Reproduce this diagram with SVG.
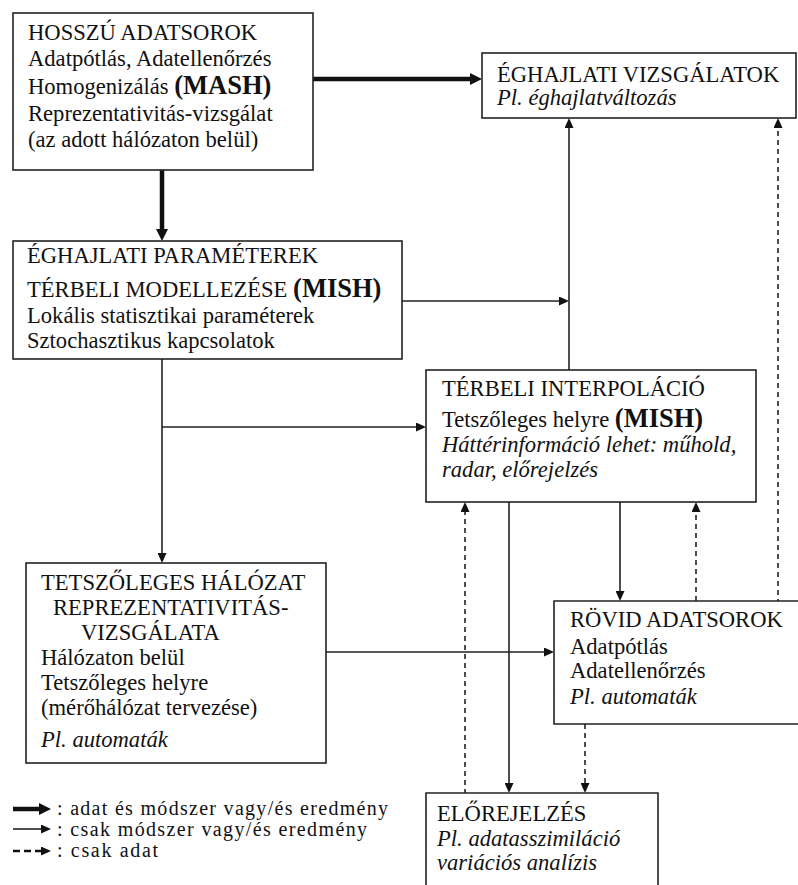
<svg xmlns="http://www.w3.org/2000/svg" width="798" height="885" viewBox="0 0 798 885" font-family="'Liberation Serif', 'Times New Roman', 'DejaVu Serif', serif">
<style>
.box{fill:#fff;stroke:#222;stroke-width:1.6}
text{font-family:'Liberation Serif','Times New Roman','DejaVu Serif',serif;font-size:22.6px;fill:#111}
.b{font-weight:bold;font-size:26.5px}
.i{font-style:italic}
.lg{font-size:20px}
.thick{fill:none;stroke:#111;stroke-width:4.5}
.thin{fill:none;stroke:#222;stroke-width:1.6}
.dash{fill:none;stroke:#222;stroke-width:1.6;stroke-dasharray:5 4}
.ldash{fill:none;stroke:#111;stroke-width:2.6;stroke-dasharray:7 4}
</style>
<defs>
<marker id="ah" viewBox="0 0 10 9" refX="0" refY="4.5" markerWidth="10" markerHeight="9" markerUnits="userSpaceOnUse" orient="auto"><path d="M0,0 L10,4.5 L0,9 z" fill="#111"/></marker>
<marker id="ahT" viewBox="0 0 12 12" refX="0" refY="6" markerWidth="12" markerHeight="12" markerUnits="userSpaceOnUse" orient="auto"><path d="M0,0 L12,6 L0,12 z" fill="#111"/></marker>
</defs>
<rect width="798" height="885" fill="#fff"/>

<g id="connectors">
<path class="thick" d="M313,79 H470" marker-end="url(#ahT)"/>
<path class="thick" d="M162,170 V229" marker-end="url(#ahT)"/>
<path class="thin" d="M402,301 H559" marker-end="url(#ah)"/>
<path class="thin" d="M569,370 V128" marker-end="url(#ah)"/>
<path class="dash" d="M778,613 V128" marker-end="url(#ah)"/>
<path class="thin" d="M162,359 V553" marker-end="url(#ah)"/>
<path class="thin" d="M162,427 H416" marker-end="url(#ah)"/>
<path class="thin" d="M326,652 H544" marker-end="url(#ah)"/>
<path class="thin" d="M620,502 V591" marker-end="url(#ah)"/>
<path class="dash" d="M696,601 V512" marker-end="url(#ah)"/>
<path class="thin" d="M509,502 V783" marker-end="url(#ah)"/>
<path class="dash" d="M465,803 V512" marker-end="url(#ah)"/>
<path class="dash" d="M585,724 V783" marker-end="url(#ah)"/>
</g>

<g id="hosszu">
<rect class="box" x="13" y="13" width="300" height="157"/>
<text x="28" y="40">HOSSZÚ ADATSOROK</text>
<text x="28" y="66">Adatpótlás, Adatellenőrzés</text>
<text x="28" y="94">Homogenizálás <tspan class="b">(MASH)</tspan></text>
<text x="28" y="121">Reprezentativitás-vizsgálat</text>
<text x="28" y="147">(az adott hálózaton belül)</text>
</g>

<g id="eghajlati-vizsgalatok">
<rect class="box" x="482" y="53" width="314" height="65"/>
<text x="497" y="82">ÉGHAJLATI VIZSGÁLATOK</text>
<text x="497" y="105" class="i">Pl. éghajlatváltozás</text>
</g>

<g id="parameterek">
<rect class="box" x="13" y="241" width="389" height="118"/>
<text x="27" y="263">ÉGHAJLATI PARAMÉTEREK</text>
<text x="27" y="297">TÉRBELI MODELLEZÉSE <tspan class="b">(MISH)</tspan></text>
<text x="27" y="323">Lokális statisztikai paraméterek</text>
<text x="27" y="348">Sztochasztikus kapcsolatok</text>
</g>

<g id="interpolacio">
<rect class="box" x="426" y="370" width="330" height="132"/>
<text x="442" y="396">TÉRBELI INTERPOLÁCIÓ</text>
<text x="442" y="427">Tetszőleges helyre <tspan class="b">(MISH)</tspan></text>
<text x="442" y="452" class="i">Háttérinformáció lehet: műhold,</text>
<text x="442" y="477" class="i">radar, előrejelzés</text>
</g>

<g id="halozat">
<rect class="box" x="26" y="563" width="300" height="200"/>
<text x="41" y="590">TETSZŐLEGES HÁLÓZAT</text>
<text x="53" y="615">REPREZENTATIVITÁS-</text>
<text x="81" y="640">VIZSGÁLATA</text>
<text x="41" y="665">Hálózaton belül</text>
<text x="41" y="690">Tetszőleges helyre</text>
<text x="41" y="715">(mérőhálózat tervezése)</text>
<text x="41" y="747" class="i">Pl. automaták</text>
</g>

<g id="rovid">
<path class="box" d="M805,601 H554 V724 H805"/>
<text x="570" y="627">RÖVID ADATSOROK</text>
<text x="570" y="654">Adatpótlás</text>
<text x="570" y="678">Adatellenőrzés</text>
<text x="570" y="704" class="i">Pl. automaták</text>
</g>

<g id="elorejelzes">
<path class="box" d="M426,890 V793 H658 V890"/>
<text x="437" y="821">ELŐREJELZÉS</text>
<text x="437" y="846" class="i">Pl. adatasszimiláció</text>
<text x="437" y="870" class="i">variációs analízis</text>
</g>

<g id="legend">
<path class="thick" d="M13,809 H39" marker-end="url(#ahT)"/>
<path class="thin" d="M13,829 H41" marker-end="url(#ah)"/>
<path class="ldash" d="M13,851 H41" marker-end="url(#ah)"/>
<text class="lg" x="57" y="815" textLength="331" lengthAdjust="spacing">: adat és módszer vagy/és eredmény</text>
<text class="lg" x="57" y="836" textLength="310" lengthAdjust="spacing">: csak módszer vagy/és eredmény</text>
<text class="lg" x="57" y="857" textLength="101" lengthAdjust="spacing">: csak adat</text>
</g>
</svg>
